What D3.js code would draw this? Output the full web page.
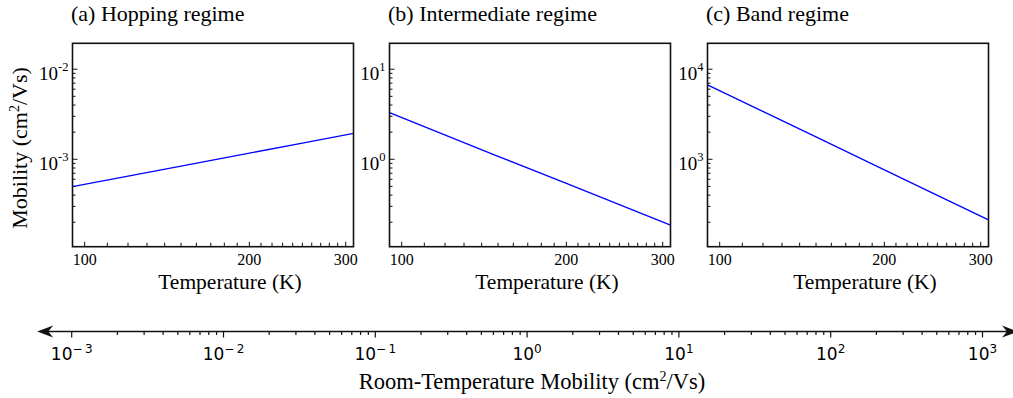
<!DOCTYPE html>
<html>
<head>
<meta charset="utf-8">
<script src="https://cdn.jsdelivr.net/npm/d3@7"></script>
<style>
  body { margin: 0; background: #fff; }
  svg { display: block; }
  .serif { font-family: "Liberation Serif", "Times New Roman", serif; fill: #000; }
  .sans { font-family: "DejaVu Sans", sans-serif; fill: #000; }
</style>
</head>
<body>
<div id="chart"></div>
<script>
// temperatures where the lines were read (K)
const temps = [95, 150, 200, 250, 310];

// mobility (cm^2/Vs)
const hopping = [4.96e-4, 8.4e-4, 1.17e-3, 1.51e-3, 1.94e-3];
const intermediate = [3.29, 1.08, 0.54, 0.314, 0.186];
const band = [6700, 1770, 762, 397, 212];

const panelTitles = ["(a) Hopping regime", "(b) Intermediate regime", "(c) Band regime"];
const yMajor = [[-2, -3], [1, 0], [4, 3]];           // exponents of labelled y ticks
const yDomains = [[1.07e-4, 1.94e-2], [0.107, 19.4], [107, 19400]];
const xTickLabels = [100, 200, 300];

// bottom room-temperature mobility axis
const rtExponents = [-3, -2, -1, 0, 1, 2, 3];

const width = 1013, height = 398;
const svg = d3.select("#chart").append("svg")
    .attr("width", width)
    .attr("height", height);

const panelLefts = [72.5, 389.5, 707.5];
const panelW = 281, plotTop = 43.3, plotBottom = 246.7;
const series = [hopping, intermediate, band];

panelLefts.forEach((left, i) => {
    const x = d3.scaleLog().domain([95, 310]).range([left, left + panelW]);
    const y = d3.scaleLog().domain(yDomains[i]).range([plotBottom, plotTop]);
    const g = svg.append("g");

    // x ticks, every 10 K, pointing inward
    const xt = d3.range(100, 311, 10);
    g.selectAll(".xt").data(xt).join("line")
        .attr("x1", d => x(d)).attr("x2", d => x(d))
        .attr("y1", plotBottom).attr("y2", d => plotBottom - (d % 100 === 0 ? 5 : 4))
        .attr("stroke", "#111").attr("stroke-width", 1);
    g.selectAll(".xl").data(xTickLabels).join("text")
        .attr("class", "serif")
        .attr("x", d => x(d)).attr("y", 265)
        .attr("text-anchor", "middle")
        .style("font-size", "16px")
        .text(d => d);

    // y ticks: majors and 2..9 minors
    const [lo, hi] = yDomains[i];
    const yt = [];
    for (let e = Math.floor(Math.log10(lo)); e <= Math.ceil(Math.log10(hi)); e++) {
        for (let m = 1; m <= 9; m++) {
            const v = m * Math.pow(10, e);
            if (v >= lo && v <= hi) yt.push({ v, major: m === 1 });
        }
    }
    g.selectAll(".yt").data(yt).join("line")
        .attr("x1", left).attr("x2", d => left + (d.major ? 5 : 3))
        .attr("y1", d => y(d.v)).attr("y2", d => y(d.v))
        .attr("stroke", "#111").attr("stroke-width", 1);
    const yl = g.selectAll(".yl").data(yMajor[i]).join("text")
        .attr("class", "serif")
        .attr("x", left - 4).attr("y", d => y(Math.pow(10, d)) + 10.5)
        .attr("text-anchor", "end")
        .style("font-size", "19px");
    yl.append("tspan").text("10");
    yl.append("tspan").attr("dy", -8.5).style("font-size", "12.5px").text(d => d);

    // the line
    const line = d3.line().x(d => x(d[0])).y(d => y(d[1]));
    g.append("path")
        .datum(temps.map((t, j) => [t, series[i][j]]))
        .attr("d", line)
        .attr("fill", "none")
        .attr("stroke", "#0000ff")
        .attr("stroke-width", 1.3);

    // frame
    g.append("rect")
        .attr("x", left).attr("y", plotTop)
        .attr("width", panelW).attr("height", plotBottom - plotTop)
        .attr("fill", "none").attr("stroke", "#111").attr("stroke-width", 1.6);

    g.append("text")
        .attr("class", "serif")
        .attr("x", left - 1.5).attr("y", 21)
        .style("font-size", "22px")
        .text(panelTitles[i]);

    g.append("text")
        .attr("class", "serif")
        .attr("x", left + panelW / 2 + 17).attr("y", 289)
        .attr("text-anchor", "middle")
        .style("font-size", "21.5px")
        .text("Temperature (K)");
});

// y label
const ylab = svg.append("text")
    .attr("class", "serif")
    .attr("transform", "translate(27,148) rotate(-90)")
    .attr("text-anchor", "middle")
    .style("font-size", "22px");
ylab.append("tspan").text("Mobility (cm");
ylab.append("tspan").attr("dy", -8.5).style("font-size", "14px").text("2");
ylab.append("tspan").attr("dy", 8.5).text("/Vs)");

// bottom axis
const rx = d3.scaleLog().domain([1e-3, 1e3]).range([71.7, 982.5]);
const ay = 331.5;
const b = svg.append("g");
b.append("line")
    .attr("x1", rx(1e-3) - 30).attr("x2", rx(1e3) + 30)
    .attr("y1", ay).attr("y2", ay)
    .attr("stroke", "#111").attr("stroke-width", 1.6);

const rticks = [];
rtExponents.forEach(e => {
    for (let m = 1; m <= 9; m++) {
        const v = m * Math.pow(10, e);
        if (v <= 1e3) rticks.push({ v, major: m === 1 });
    }
});
b.selectAll(".rt").data(rticks).join("line")
    .attr("x1", d => rx(d.v)).attr("x2", d => rx(d.v))
    .attr("y1", ay).attr("y2", d => ay + (d.major ? 6 : 3.5))
    .attr("stroke", "#111").attr("stroke-width", 1.2);

const rl = b.selectAll(".rl").data(rtExponents).join("text")
    .attr("class", "sans")
    .attr("x", d => rx(Math.pow(10, d))).attr("y", 360)
    .attr("text-anchor", "middle")
    .style("font-size", "17px");
rl.append("tspan").text("10");
rl.append("tspan").attr("dy", -7).style("font-size", "12px")
    .text(d => d < 0 ? "\u2212" + "\u2009" + (-d) : d);

// arrowheads (stealth style)
function arrow(tip, dir) {
    const back = tip - dir * 16, notch = tip - dir * 11;
    return `M${tip},${ay} L${back},${ay - 6} L${notch},${ay} L${back},${ay + 6} Z`;
}
b.append("path").attr("d", arrow(rx(1e-3) - 34.5, -1)).attr("fill", "#111");
b.append("path").attr("d", arrow(rx(1e3) + 35.5, 1)).attr("fill", "#111");

const rlab = svg.append("text")
    .attr("class", "serif")
    .attr("x", 532).attr("y", 389)
    .attr("text-anchor", "middle")
    .style("font-size", "22.5px");
rlab.append("tspan").text("Room-Temperature Mobility (cm");
rlab.append("tspan").attr("dy", -8.5).style("font-size", "14px").text("2");
rlab.append("tspan").attr("dy", 8.5).text("/Vs)");
</script>
</body>
</html>
